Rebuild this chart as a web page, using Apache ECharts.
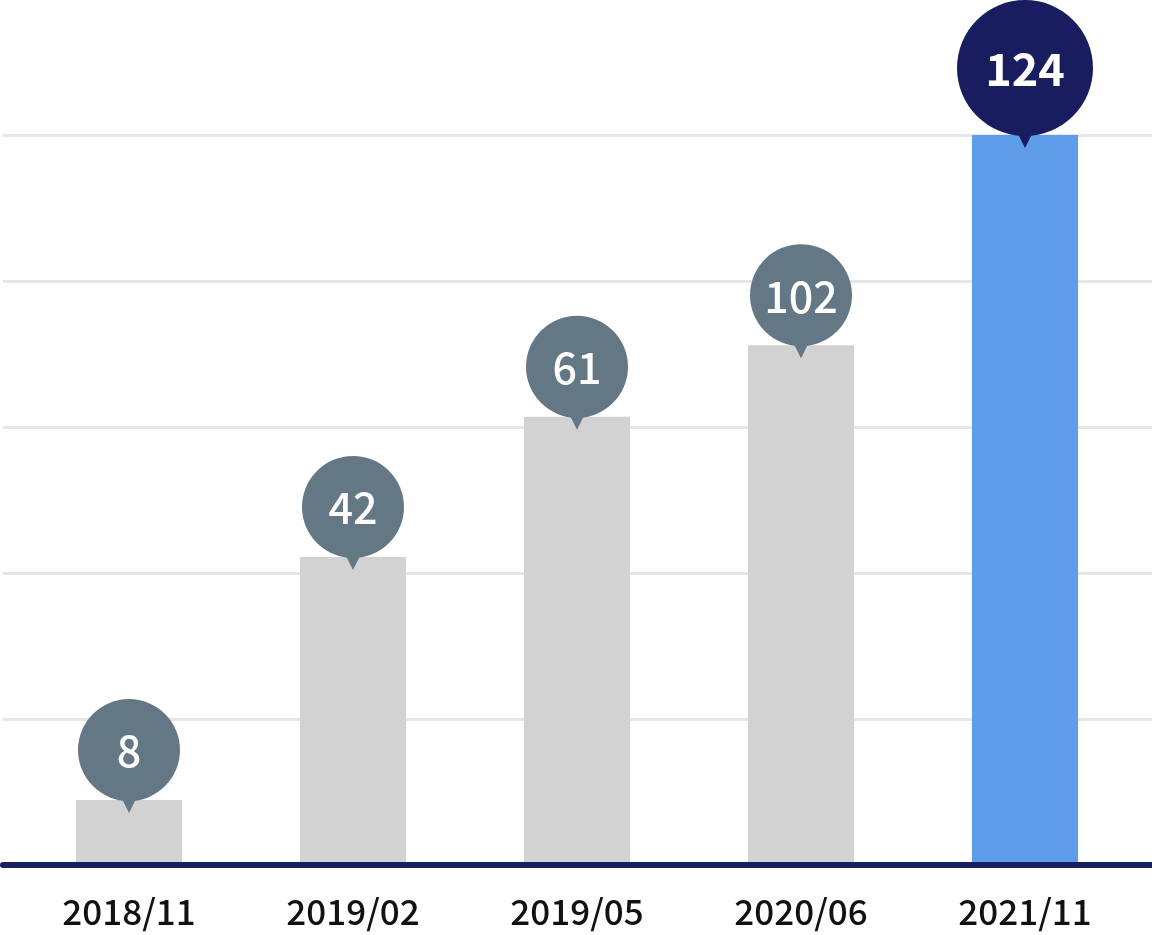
<!DOCTYPE html>
<html>
<head>
<meta charset="utf-8">
<script src="https://cdn.jsdelivr.net/npm/echarts@6/dist/echarts.min.js"></script>
<style>
html,body{margin:0;padding:0;background:#fff;}
#chart{width:1152px;height:935px;}
</style>
</head>
<body>
<div id="chart"></div>
<script>
// Data
var categories = ['2018/11', '2019/02', '2019/05', '2020/06', '2021/11'];
var counts = [8, 42, 61, 102, 124];
// bar heights as drawn in the picture, in gridline units (the picture is not to scale)
var barHeights = [0.445, 2.11, 3.07, 3.56, 5.0];
var highlightIndex = 4;

var GREY_BAR = '#d2d2d2';
var BLUE_BAR = '#5e9de9';
var BUBBLE = '#637884';
var NAVY = '#181d5f';
var FONT = '"Noto Sans CJK JP", "Noto Sans", sans-serif';

var chart = echarts.init(document.getElementById('chart'), null, {renderer: 'canvas'});

var barData = barHeights.map(function (h, i) {
  return {
    value: h,
    itemStyle: {color: i === highlightIndex ? BLUE_BAR : GREY_BAR}
  };
});
var bubbleData = barHeights.map(function (h, i) {
  return [i, h, counts[i], i === highlightIndex ? 1 : 0];
});

var option = {
  backgroundColor: '#ffffff',
  animation: false,
  grid: [
    {left: 17, right: 15, top: 135, bottom: 70},
    {left: 3, right: 0, top: 135, bottom: 70}
  ],
  xAxis: [
    {
      gridIndex: 0, type: 'category', data: categories,
      axisLine: {show: false}, axisTick: {show: false},
      axisLabel: {color: '#111111', fontSize: 35, fontWeight: 500, fontFamily: FONT, margin: 29}
    },
    {
      gridIndex: 1, type: 'value', min: 0, max: 1, z: 6,
      axisLine: {show: true, onZero: false, lineStyle: {color: NAVY, width: 6, cap: 'round'}},
      axisTick: {show: false}, axisLabel: {show: false}, splitLine: {show: false}
    }
  ],
  yAxis: [
    {
      gridIndex: 0, type: 'value', min: 0, max: 5, interval: 1,
      axisLine: {show: false}, axisTick: {show: false}, axisLabel: {show: false},
      splitLine: {show: false}
    },
    {
      gridIndex: 1, type: 'value', min: 0, max: 5, interval: 1,
      axisLine: {show: false}, axisTick: {show: false}, axisLabel: {show: false},
      splitLine: {show: true, lineStyle: {color: '#e6e6e6', width: 3}}
    }
  ],
  series: [
    {
      type: 'bar', xAxisIndex: 0, yAxisIndex: 0,
      data: barData, barWidth: 106, z: 2
    },
    {
      type: 'custom', xAxisIndex: 0, yAxisIndex: 0, z: 8,
      data: bubbleData,
      renderItem: function (params, api) {
        var top = api.coord([api.value(0), api.value(1)]);
        var hl = api.value(3) === 1;
        var r = hl ? 68 : 51;
        var cx = top[0];
        var cy = top[1] + 1 - r;
        var color = hl ? NAVY : BUBBLE;
        return {
          type: 'group',
          children: [
            {
              type: 'polygon',
              shape: {points: [[cx - 9, cy + r - 6], [cx + 9, cy + r - 6], [cx, top[1] + 13]]},
              style: {fill: color}
            },
            {
              type: 'circle',
              shape: {cx: cx, cy: cy, r: r},
              style: {fill: color}
            },
            {
              type: 'text',
              style: {
                x: cx, y: cy + 1,
                text: String(api.value(2)),
                fill: '#ffffff',
                font: (hl ? 'bold 45px ' : '500 43px ') + FONT,
                align: 'center', verticalAlign: 'middle'
              }
            }
          ]
        };
      }
    }
  ]
};
chart.setOption(option);
</script>
</body>
</html>
